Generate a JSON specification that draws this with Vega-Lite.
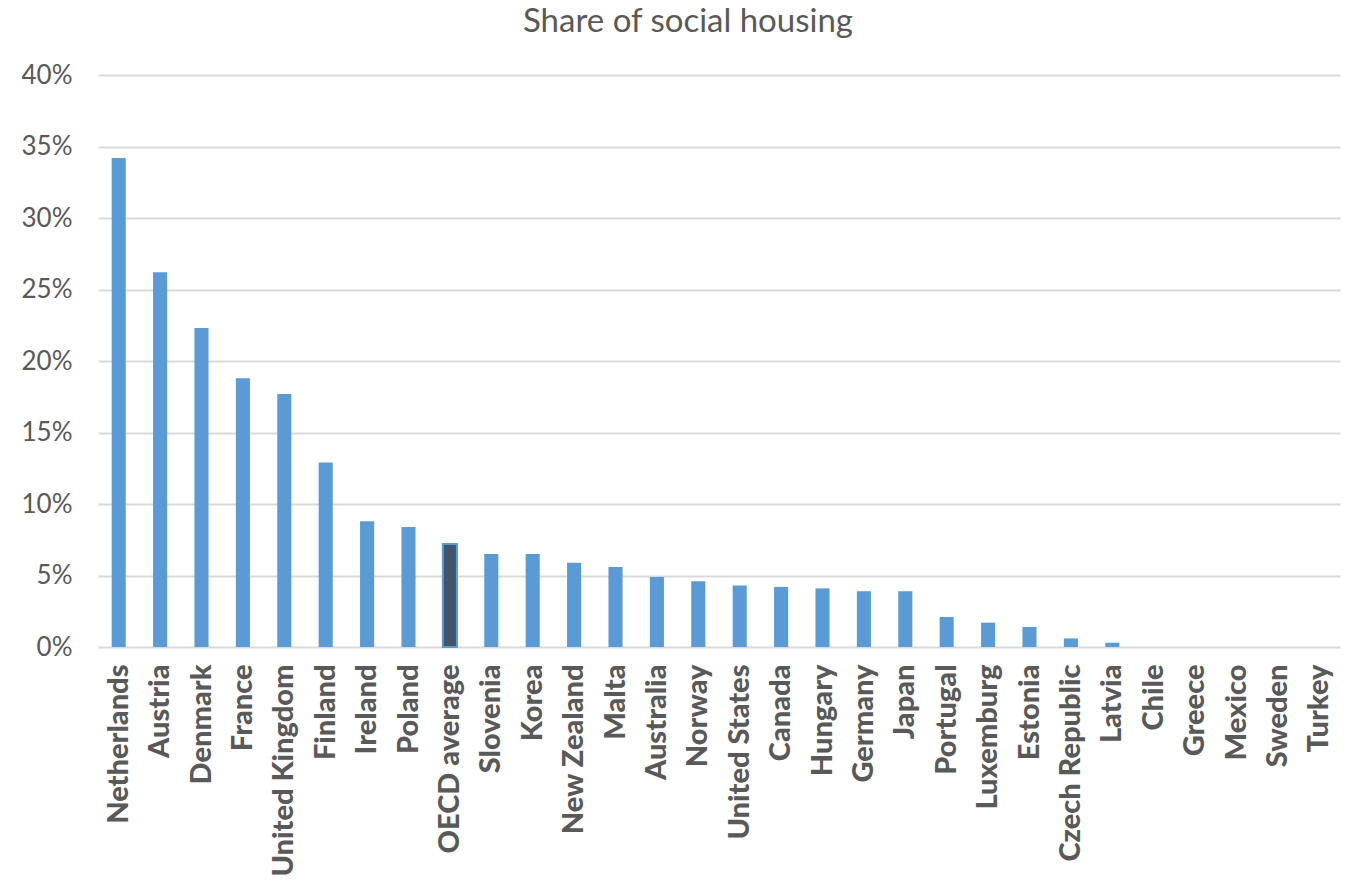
{
  "$schema": "https://vega.github.io/schema/vega-lite/v6.json",
  "width": 1242,
  "height": 572,
  "autosize": {"type": "none"},
  "padding": {"left": 98, "top": 75, "right": 13, "bottom": 236},
  "background": "white",
  "title": {
    "text": "Share of social housing",
    "font": "Lato",
    "fontSize": 33,
    "fontWeight": "normal",
    "color": "#595959",
    "anchor": "middle",
    "offset": 23,
    "dx": -31
  },
  "data": {
    "values": [
      {"country": "Netherlands", "share": 0.342, "type": "Country"},
      {"country": "Austria", "share": 0.262, "type": "Country"},
      {"country": "Denmark", "share": 0.223, "type": "Country"},
      {"country": "France", "share": 0.188, "type": "Country"},
      {"country": "United Kingdom", "share": 0.177, "type": "Country"},
      {"country": "Finland", "share": 0.129, "type": "Country"},
      {"country": "Ireland", "share": 0.088, "type": "Country"},
      {"country": "Poland", "share": 0.084, "type": "Country"},
      {"country": "OECD average", "share": 0.072, "type": "Average"},
      {"country": "Slovenia", "share": 0.065, "type": "Country"},
      {"country": "Korea", "share": 0.065, "type": "Country"},
      {"country": "New Zealand", "share": 0.059, "type": "Country"},
      {"country": "Malta", "share": 0.056, "type": "Country"},
      {"country": "Australia", "share": 0.049, "type": "Country"},
      {"country": "Norway", "share": 0.046, "type": "Country"},
      {"country": "United States", "share": 0.043, "type": "Country"},
      {"country": "Canada", "share": 0.042, "type": "Country"},
      {"country": "Hungary", "share": 0.041, "type": "Country"},
      {"country": "Germany", "share": 0.039, "type": "Country"},
      {"country": "Japan", "share": 0.039, "type": "Country"},
      {"country": "Portugal", "share": 0.021, "type": "Country"},
      {"country": "Luxemburg", "share": 0.017, "type": "Country"},
      {"country": "Estonia", "share": 0.014, "type": "Country"},
      {"country": "Czech Republic", "share": 0.006, "type": "Country"},
      {"country": "Latvia", "share": 0.003, "type": "Country"},
      {"country": "Chile", "share": 0, "type": "Country"},
      {"country": "Greece", "share": 0, "type": "Country"},
      {"country": "Mexico", "share": 0, "type": "Country"},
      {"country": "Sweden", "share": 0, "type": "Country"},
      {"country": "Turkey", "share": 0, "type": "Country"}
    ]
  },
  "mark": {"type": "bar", "stroke": "#5B9BD5"},
  "encoding": {
    "x": {
      "field": "country",
      "type": "nominal",
      "sort": null,
      "title": null,
      "scale": {"paddingInner": 0.66, "paddingOuter": 0.33},
      "axis": {
        "domain": false,
        "ticks": false,
        "labelAngle": -90,
        "labelFont": "Lato",
        "labelFontSize": 29,
        "labelFontWeight": 900,
        "labelColor": "#595959",
        "labelPadding": 17,
        "labelLimit": 300
      }
    },
    "y": {
      "field": "share",
      "type": "quantitative",
      "title": null,
      "scale": {"domain": [0, 0.4], "nice": false},
      "axis": {
        "values": [0, 0.05, 0.1, 0.15, 0.2, 0.25, 0.3, 0.35, 0.4],
        "format": ".0%",
        "domain": false,
        "ticks": false,
        "labelFont": "Lato",
        "labelFontSize": 26,
        "labelColor": "#595959",
        "labelPadding": 26,
        "gridColor": "#D9D9D9",
        "gridWidth": 2
      }
    },
    "color": {
      "field": "type",
      "type": "nominal",
      "scale": {"domain": ["Country", "Average"], "range": ["#5B9BD5", "#44546A"]},
      "legend": null
    },
    "strokeWidth": {
      "condition": {"test": "datum.type === 'Average'", "value": 2},
      "value": 0
    }
  },
  "config": {"view": {"stroke": null}}
}
